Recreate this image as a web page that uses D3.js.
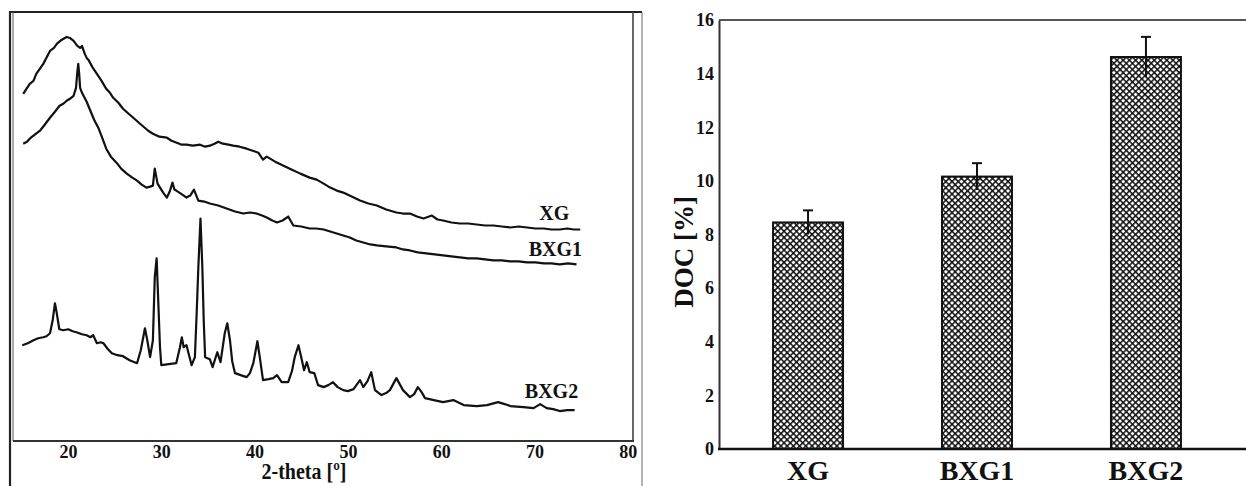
<!DOCTYPE html>
<html>
<head>
<meta charset="utf-8">
<script src="https://cdn.jsdelivr.net/npm/d3@7"></script>
<style>
  html, body { margin: 0; padding: 0; background: #fff; }
  svg { display: block; }
  text { font-family: "Liberation Serif", "Times New Roman", serif; font-weight: bold; fill: #111; }
</style>
</head>
<body>
<svg id="chart" width="1246" height="486"></svg>
<script>
// ---------- Data: XRD patterns (2-theta in degrees, intensity in a.u.) ----------
const xrdTicks = [20, 30, 40, 50, 60, 70, 80];

const xgPattern = [[15.2,348],[15.9,358],[16.3,361],[16.6,368],[17.35,378],[18.07,391],[18.5,394],[18.8,398],[19.3,402],[19.86,405],[20.2,404],[20.6,401],[21.0,396],[21.3,394],[21.5,396],[21.8,388],[22.0,384],[22.2,382],[22.6,375],[23.1,368],[23.6,361],[24.1,353],[24.5,349],[24.85,344],[25.4,339],[25.9,333],[26.5,328],[27.0,324],[27.6,319],[28.1,315],[28.6,311],[29.1,308],[29.8,305],[30.6,304],[31.1,301],[31.65,299],[32.2,297],[32.7,297],[33.4,296],[34.15,297],[34.7,295],[35.2,296],[35.7,298],[36.1,300],[36.6,298],[37.2,297],[37.7,296],[38.4,295],[39.15,293],[39.8,291],[40.4,289],[40.9,282],[41.3,285],[42.2,280],[43.1,276],[44.0,272],[44.9,268],[45.9,264],[46.65,262],[47.4,258],[48.1,254],[48.8,251],[49.5,249],[50.4,245],[51.3,241],[52.2,238],[53.1,236],[54.1,232],[55.2,229],[55.9,228],[56.65,228],[57.4,225],[58.1,223],[59.0,226],[59.6,222],[60.2,221],[61.1,219],[62.0,218],[62.9,218],[63.8,217],[64.7,216],[65.6,216],[66.5,215],[67.4,214],[68.3,215],[69.2,214],[70.1,213],[71.0,213],[71.8,212],[72.7,212],[73.5,213],[74.2,212],[74.9,212]];

const bxg1Pattern = [[15.2,298],[15.6,300],[15.9,303],[16.3,306],[17.0,311],[17.5,317],[18.07,324],[18.6,330],[19.1,336],[19.5,338],[19.86,341],[20.2,343],[20.6,346],[20.86,354],[21.0,370],[21.1,378],[21.2,368],[21.3,354],[21.5,349],[22.0,340],[22.4,331],[22.8,322],[23.25,314],[23.7,303],[24.1,293],[24.6,285],[25.2,279],[25.7,273],[26.3,268],[26.9,264],[27.4,261],[27.9,257],[28.4,254],[28.8,255],[29.1,256],[29.3,273],[29.6,258],[30.2,249],[30.6,244],[30.9,250],[31.2,259],[31.4,252],[31.6,251],[32.1,248],[32.7,244],[33.1,246],[33.5,252],[33.97,241],[34.6,240],[35.2,238],[36.1,236],[37.0,233],[37.9,230],[38.8,228],[39.5,229],[40.2,228],[40.8,226],[41.3,224],[41.9,221],[42.4,219],[43.0,221],[43.6,225],[44.15,216],[45.0,215],[45.9,213],[46.6,213],[47.4,212],[48.1,210],[48.8,208],[49.5,206],[50.2,204],[50.9,201],[51.65,199],[52.4,197],[53.1,196],[54.1,195],[55.2,194],[55.9,192],[56.65,191],[57.5,189],[58.4,188],[59.3,187],[60.2,186],[61.1,185],[62.0,184],[62.9,183],[63.8,183],[64.7,182],[65.6,181],[66.5,181],[67.4,180],[68.3,180],[69.2,179],[70.1,179],[71.0,178],[71.8,178],[72.7,177],[73.6,178],[74.5,177]];

const bxg2Pattern = [[15.1,96],[15.7,98],[16.3,101],[16.8,103],[17.35,104],[17.7,105],[18.07,108],[18.36,121],[18.6,138],[18.8,128],[19.07,112],[19.5,111],[20.03,112],[20.5,110],[20.9,109],[21.5,107],[22.0,106],[22.4,104],[22.7,106],[23.1,98],[23.5,99],[23.8,98],[24.2,93],[24.7,88],[25.3,86],[25.9,85],[26.6,81],[27.4,78],[27.8,91],[28.25,113],[28.5,101],[28.8,84],[29.1,101],[29.3,164],[29.5,183],[29.7,134],[29.86,94],[30.0,76],[30.8,77],[31.6,78],[32.0,94],[32.2,104],[32.4,94],[32.7,96],[33.25,76],[33.6,84],[33.8,130],[33.97,174],[34.2,223],[34.4,174],[34.55,120],[34.7,84],[35.2,82],[35.5,74],[36.0,89],[36.35,79],[36.8,108],[37.07,118],[37.36,101],[37.6,80],[37.9,68],[38.5,66],[39.15,64],[39.5,68],[39.86,78],[40.3,100],[40.6,81],[40.9,61],[41.5,62],[42.0,63],[42.4,66],[42.9,59],[43.6,59],[44.0,70],[44.3,84],[44.7,96],[45.0,84],[45.3,71],[45.6,79],[45.9,69],[46.4,68],[46.8,56],[47.4,54],[47.9,56],[48.4,59],[48.9,54],[49.5,51],[50.0,50],[50.6,52],[51.3,61],[51.65,54],[52.1,60],[52.5,69],[52.9,51],[53.6,46],[54.1,48],[54.5,51],[55.2,63],[55.9,51],[56.65,44],[57.1,47],[57.5,54],[57.9,49],[58.26,43],[59.2,41],[60.2,39],[61.3,41],[62.4,36],[63.8,35],[64.9,36],[66.1,39],[66.8,37],[67.4,35],[68.8,34],[69.9,33],[70.6,37],[71.3,33],[72.0,32],[72.7,30],[73.5,31],[74.3,31]];

const patternNames = ["XG", "BXG1", "BXG2"];

// ---------- Data: DOC bar chart ----------
const samples = ["XG", "BXG1", "BXG2"];
const docValues = [8.45, 10.16, 14.62];
const docErrors = [0.45, 0.5, 0.75];
const docTicks = [0, 2, 4, 6, 8, 10, 12, 14, 16];

// ---------- Drawing ----------
const svg = d3.select("#chart");
const ink = "#111";
const serif = "Liberation Serif";

function styleAxis(g, size) {
  g.attr("font-family", serif).attr("font-size", size).attr("font-weight", "bold");
  g.selectAll("text").attr("font-family", serif).attr("font-size", size)
    .attr("font-weight", "bold").attr("fill", ink)
    .style("font-family", serif).style("font-size", size + "px");
}

// ===== Left panel: XRD =====
const xL = d3.scaleLinear().domain([14, 80.5]).range([12, 632.5]);
const yL = d3.scaleLinear().domain([0, 430]).range([441, 12]);

// outer frame
svg.append("line").attr("x1", 10).attr("x2", 10).attr("y1", 11).attr("y2", 486)
  .attr("stroke", "#222").attr("stroke-width", 2.2);
svg.append("line").attr("x1", 9).attr("x2", 642).attr("y1", 12).attr("y2", 12)
  .attr("stroke", "#222").attr("stroke-width", 2);
svg.append("line").attr("x1", 642).attr("x2", 642).attr("y1", 12).attr("y2", 486)
  .attr("stroke", "#666").attr("stroke-width", 1);
// inner plot box
svg.append("line").attr("x1", 13).attr("x2", 13).attr("y1", 12).attr("y2", 441)
  .attr("stroke", "#555").attr("stroke-width", 1);
svg.append("line").attr("x1", 633).attr("x2", 633).attr("y1", 12).attr("y2", 442)
  .attr("stroke", "#444").attr("stroke-width", 1.6);
svg.append("line").attr("x1", 13).attr("x2", 634).attr("y1", 441).attr("y2", 441)
  .attr("stroke", "#333").attr("stroke-width", 2);

const xAxisL = svg.append("g").attr("transform", "translate(0,441)")
  .call(d3.axisBottom(xL).tickValues(xrdTicks).tickSize(0).tickPadding(4).tickFormat(d3.format("d")));
xAxisL.select(".domain").remove();
styleAxis(xAxisL, 18);

svg.append("text").attr("transform", "translate(304,479) scale(1,1.15)").attr("text-anchor", "middle")
  .style("font-size", "20px").text("2-theta [º]");

const line = d3.line().x(d => xL(d[0])).y(d => yL(d[1]));
const patterns = [xgPattern, bxg1Pattern, bxg2Pattern];
svg.append("g").selectAll("path").data(patterns).join("path")
  .attr("d", line).attr("fill", "none").attr("stroke", ink)
  .attr("stroke-width", 2.2).attr("stroke-linejoin", "round");

const labelOffsets = [[-11, -9], [5.5, -8], [3.5, -12]];
svg.append("g").selectAll("text").data(patterns).join("text")
  .attr("x", (d, i) => xL(d[d.length - 1][0]) + labelOffsets[i][0])
  .attr("y", (d, i) => yL(d[d.length - 1][1]) + labelOffsets[i][1])
  .attr("text-anchor", "end").style("font-size", "20px")
  .text((d, i) => patternNames[i]);

// ===== Right panel: DOC bars =====
const yR = d3.scaleLinear().domain([0, 16]).range([449, 20]);
const xR = d3.scaleBand().domain(samples).range([719, 1235]).paddingInner(0.586).paddingOuter(0.32);

const defs = svg.append("defs");
const pat = defs.append("pattern").attr("id", "hatch").attr("patternUnits", "userSpaceOnUse")
  .attr("width", 4.4).attr("height", 4.4).attr("patternTransform", "rotate(45)");
pat.append("rect").attr("width", 4.4).attr("height", 4.4).attr("fill", "#fff");
pat.append("rect").attr("x", 0).attr("y", 0).attr("width", 4.4).attr("height", 1.5).attr("fill", "#111");
pat.append("rect").attr("x", 0).attr("y", 0).attr("width", 1.5).attr("height", 4.4).attr("fill", "#111");

// frame
svg.append("line").attr("x1", 719).attr("x2", 1246).attr("y1", 20).attr("y2", 20)
  .attr("stroke", "#555").attr("stroke-width", 2);

svg.append("g").selectAll("rect").data(samples).join("rect")
  .attr("x", d => xR(d)).attr("width", xR.bandwidth())
  .attr("y", (d, i) => yR(docValues[i])).attr("height", (d, i) => yR(0) - yR(docValues[i]))
  .attr("fill", "url(#hatch)").attr("stroke", ink).attr("stroke-width", 2);

// error bars
const eb = svg.append("g").attr("stroke", ink).attr("stroke-width", 2);
samples.forEach((s, i) => {
  const cx = xR(s) + xR.bandwidth() / 2;
  eb.append("line").attr("x1", cx).attr("x2", cx)
    .attr("y1", yR(docValues[i] - docErrors[i])).attr("y2", yR(docValues[i] + docErrors[i]));
  eb.append("line").attr("x1", cx - 5).attr("x2", cx + 5)
    .attr("y1", yR(docValues[i] + docErrors[i])).attr("y2", yR(docValues[i] + docErrors[i]));
});

const yAxisR = svg.append("g").attr("transform", "translate(719,0)")
  .call(d3.axisLeft(yR).tickValues(docTicks).tickSize(0).tickPadding(5));
yAxisR.select(".domain").attr("stroke", "#333").attr("stroke-width", 2);
styleAxis(yAxisR, 18);

svg.append("line").attr("x1", 718).attr("x2", 1246).attr("y1", 449).attr("y2", 449)
  .attr("stroke", ink).attr("stroke-width", 2.5);

const xAxisR = svg.append("g").attr("transform", "translate(0,449)")
  .call(d3.axisBottom(xR).tickSize(0).tickPadding(11));
xAxisR.select(".domain").remove();
styleAxis(xAxisR, 28);

svg.append("text").attr("transform", "translate(693,252) rotate(-90)")
  .attr("text-anchor", "middle").style("font-size", "27px").text("DOC [%]");
</script>
</body>
</html>
